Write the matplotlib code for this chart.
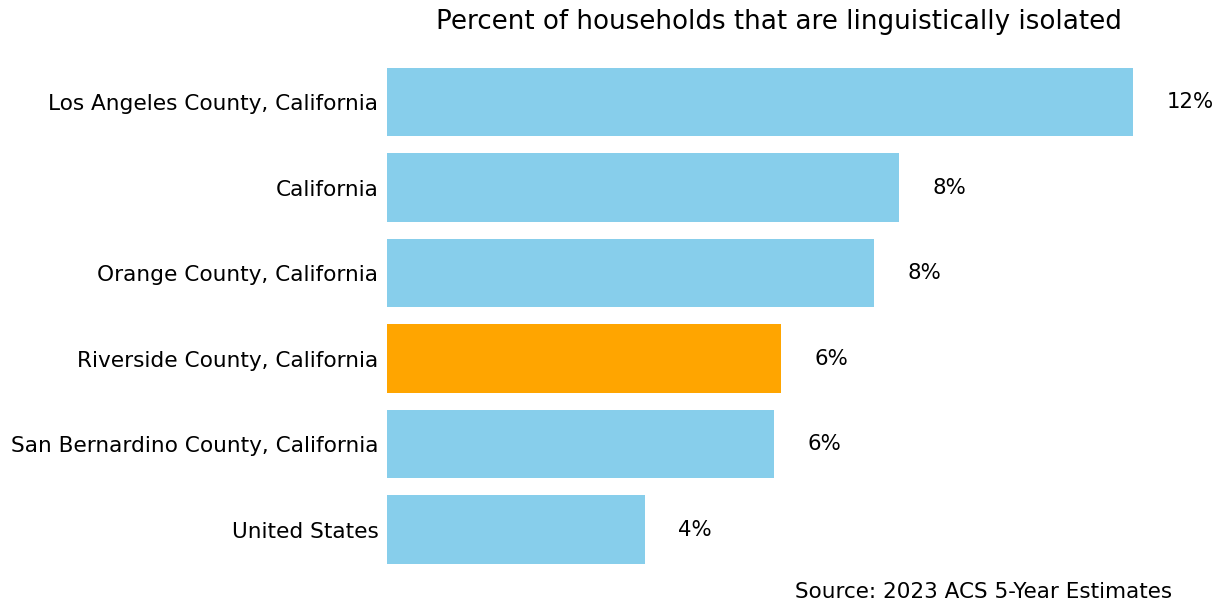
import matplotlib.pyplot as plt

# Data
places = ['Los Angeles County, California', 'California', 'Orange County, California',
          'Riverside County, California', 'San Bernardino County, California', 'United States']
pct = [12.15, 8.34, 7.93, 6.42, 6.30, 4.20]
highlight = 'Riverside County, California'

colors = ['orange' if p == highlight else 'skyblue' for p in places]

fig = plt.figure(figsize=(12.24, 6.05), dpi=100)
ax = fig.add_axes([0.316, 0.068, 0.639, 0.82])

# Plot top-to-bottom by reversing the order
ax.barh(places[::-1], pct[::-1], color=colors[::-1], height=0.8)

for i, v in enumerate(pct[::-1]):
    ax.text(v + 0.55, i, f'{v:.0f}%', va='center', ha='left', fontsize=15.3)

ax.set_xlim(0, 12.74)
ax.set_ylim(-0.4, 5.4)
ax.set_xticks([])
ax.tick_params(axis='y', length=0, pad=6, labelsize=15.6)
for s in ax.spines.values():
    s.set_visible(False)

fig.text(0.636, 0.963, 'Percent of households that are linguistically isolated',
         ha='center', va='center', fontsize=18.8)
fig.text(0.958, 0.005, 'Source: 2023 ACS 5-Year Estimates', ha='right', va='bottom', fontsize=15.5)

fig.savefig('out.png', dpi=100)
